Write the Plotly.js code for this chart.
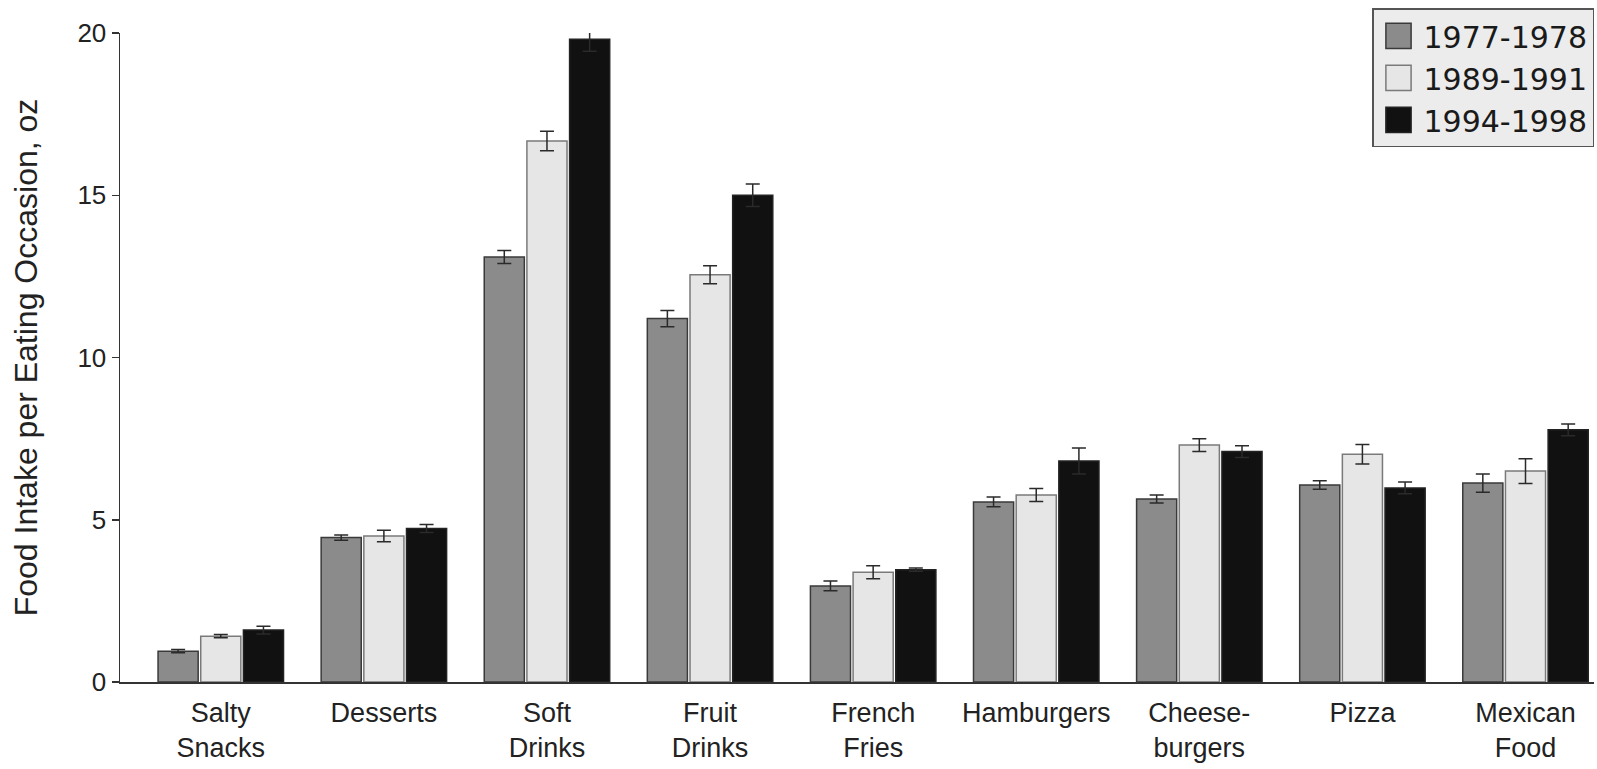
<!DOCTYPE html>
<html>
<head>
<meta charset="utf-8">
<script src="https://cdn.plot.ly/plotly-3.0.1.min.js"></script>
<style>
  html, body { margin: 0; padding: 0; background: #fff; }
  #chart { width: 1597px; height: 769px; }
</style>
</head>
<body>
<div id="chart"></div>
<script>
const categories = ["Salty<br>Snacks", "Desserts", "Soft<br>Drinks", "Fruit<br>Drinks", "French<br>Fries", "Hamburgers", "Cheese-<br>burgers", "Pizza", "Mexican<br>Food"];
const seriesNames = ["1977-1978", "1989-1991", "1994-1998"];
const values1977 = [0.95, 4.45, 13.1, 11.2, 2.96, 5.55, 5.64, 6.07, 6.13];
const values1989 = [1.41, 4.5, 16.67, 12.55, 3.38, 5.76, 7.3, 7.02, 6.5];
const values1994 = [1.6, 4.73, 19.81, 15.0, 3.46, 6.81, 7.1, 5.98, 7.77];
const err1977 = [0.05, 0.08, 0.2, 0.25, 0.15, 0.15, 0.12, 0.13, 0.28];
const err1989 = [0.05, 0.18, 0.3, 0.28, 0.2, 0.2, 0.2, 0.3, 0.38];
const err1994 = [0.12, 0.12, 0.37, 0.35, 0.05, 0.4, 0.18, 0.18, 0.18];
const yTicks = [0, 5, 10, 15, 20];

const fills = ["#8b8b8b", "#e6e6e6", "#111111"];
const outlines = ["#3a3a3a", "#7a7a7a", "#222222"];
const allValues = [values1977, values1989, values1994];
const allErr = [err1977, err1989, err1994];

const FONT = '"Liberation Sans", Arial, Helvetica, sans-serif';
const LEGEND_FONT = '"DejaVu Sans", "Liberation Sans", Arial, sans-serif';

const traces = seriesNames.map((name, i) => ({
  type: "bar",
  name: name,
  legendgroup: "g" + i,
  x: categories,
  y: allValues[i],
  marker: { color: fills[i], line: { color: outlines[i], width: 1.5 } },
  error_y: { type: "data", array: allErr[i], visible: true, color: "#2a2a2a", thickness: 1.5, width: 7 },
  cliponaxis: false,
  hoverinfo: "x+y+name"
}));

const layout = {
  width: 1597,
  height: 769,
  margin: { l: 120, r: 3, t: 33, b: 87 },
  paper_bgcolor: "#ffffff",
  plot_bgcolor: "#ffffff",
  font: { family: FONT, color: "#222222", size: 26 },
  barmode: "group",
  bargap: 0.215,
  bargroupgap: 0.06,
  showlegend: true,
  legend: {
    x: 1.0, xanchor: "right",
    y: 1.038, yanchor: "top",
    bgcolor: "#ececec",
    bordercolor: "#555555",
    borderwidth: 1.5,
    font: { family: LEGEND_FONT, size: 30, color: "#1a1a1a" },
    tracegroupgap: 12,
    traceorder: "normal",
    itemwidth: 40
  },
  xaxis: {
    type: "category",
    range: [-0.618, 8.42],
    showline: true,
    linecolor: "#333333",
    linewidth: 1.5,
    ticks: "",
    showgrid: false,
    zeroline: false,
    tickfont: { family: FONT, size: 27, color: "#222222" },
    ticklabelstandoff: 6,
    fixedrange: true
  },
  yaxis: {
    range: [0, 20],
    tickvals: yTicks,
    ticktext: yTicks.map(String),
    showline: true,
    linecolor: "#333333",
    linewidth: 1.5,
    ticks: "outside",
    ticklen: 7,
    tickwidth: 1.5,
    tickcolor: "#333333",
    showgrid: false,
    zeroline: false,
    tickfont: { family: FONT, size: 26, color: "#222222" },
    title: { text: "Food Intake per Eating Occasion, oz", font: { family: FONT, size: 32, color: "#222222" }, standoff: 30 },
    fixedrange: true
  }
};

Plotly.newPlot("chart", traces, layout, { displayModeBar: false, staticPlot: true }).then(() => {
  document.querySelectorAll("#chart .legend .legendpoints path").forEach(p => {
    const t = p.getAttribute("transform") || "";
    p.setAttribute("transform", t + " scale(2.1)");
    p.style.vectorEffect = "non-scaling-stroke";
  });
});
</script>
</body>
</html>
